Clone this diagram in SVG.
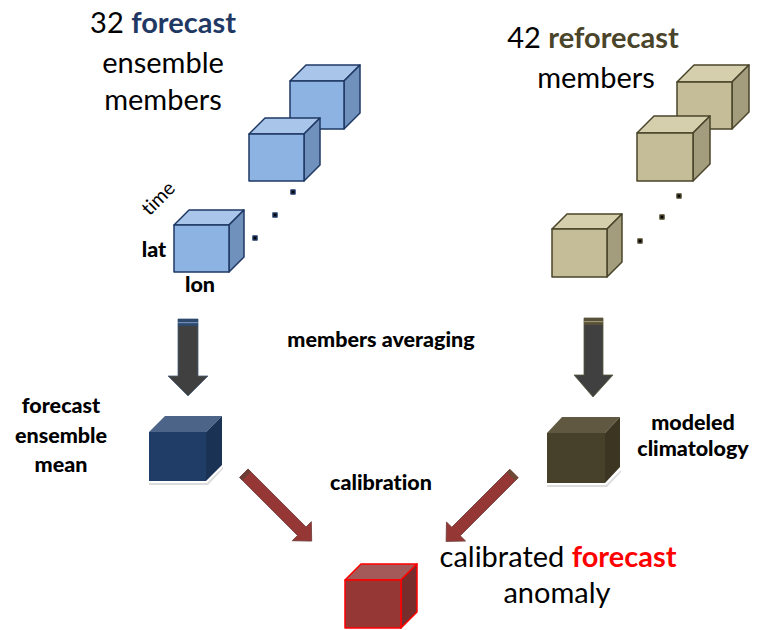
<svg xmlns="http://www.w3.org/2000/svg" width="761" height="630" viewBox="0 0 761 630">
  <style>
    text { font-family: "Lato", "Liberation Sans", sans-serif; fill: #000; font-variant-ligatures: none; font-feature-settings: "liga" 0, "clig" 0; }
    .big { font-size: 29px; }
    .lbl { font-size: 21.5px; font-weight: 900; }
    .b { font-weight: 700; }
    .blue .top { fill: #a9c5e9; }
    .blue .front { fill: #8db3e2; }
    .blue .side { fill: #7091bc; }
    .blue polygon, .blue rect { stroke: #1f3864; stroke-width: 1.5; stroke-linejoin: round; }
    .tan .top { fill: #d5cfae; }
    .tan .front { fill: #c4bd97; }
    .tan .side { fill: #a39d7e; }
    .tan polygon, .tan rect { stroke: #4a442a; stroke-width: 1.5; stroke-linejoin: round; }
    .dot { fill: #000; }
    .shadow { fill: #dcdcdc; }
  </style>

  <!-- forecast ensemble members -->
  <g id="forecast-members" class="blue">
    <g id="fc-cube-1">
      <polygon class="top" points="290,81 306,65 360,65 344,81"/>
      <polygon class="side" points="344,81 360,65 360,113 344,129"/>
      <rect class="front" x="290" y="81" width="54" height="48"/>
    </g>
    <g id="fc-cube-2">
      <polygon class="top" points="249,134 265,118 320,118 304,134"/>
      <polygon class="side" points="304,134 320,118 320,165 304,181"/>
      <rect class="front" x="249" y="134" width="55" height="47"/>
    </g>
    <g id="fc-cube-3">
      <polygon class="top" points="174,225 189,210 244,210 229,225"/>
      <polygon class="side" points="229,225 244,210 244,257 229,272"/>
      <rect class="front" x="174" y="225" width="55" height="47"/>
    </g>
    <rect class="dot" x="291" y="190" width="4" height="4" stroke="none"/>
    <rect class="dot" x="273" y="213" width="4" height="4" stroke="none"/>
    <rect class="dot" x="253" y="236" width="4" height="4" stroke="none"/>
  </g>

  <!-- reforecast members -->
  <g id="reforecast-members" class="tan">
    <g id="rf-cube-1">
      <polygon class="top" points="677,82 694,65 749,65 732,82"/>
      <polygon class="side" points="732,82 749,65 749,112 732,129"/>
      <rect class="front" x="677" y="82" width="55" height="47"/>
    </g>
    <g id="rf-cube-2">
      <polygon class="top" points="637,133 654,116 710,116 693,133"/>
      <polygon class="side" points="693,133 710,116 710,164 693,181"/>
      <rect class="front" x="637" y="133" width="56" height="48"/>
    </g>
    <g id="rf-cube-3">
      <polygon class="top" points="552,229 567,214 622,214 607,229"/>
      <polygon class="side" points="607,229 622,214 622,262 607,277"/>
      <rect class="front" x="552" y="229" width="55" height="48"/>
    </g>
    <rect class="dot" x="677" y="194" width="4" height="4" stroke="none"/>
    <rect class="dot" x="660" y="215" width="4" height="4" stroke="none"/>
    <rect class="dot" x="638" y="239" width="4" height="4" stroke="none"/>
  </g>

  <!-- forecast ensemble mean -->
  <g id="ensemble-mean">
    <polygon class="shadow" points="149,483 207,483 223,467 223,469 208,485 149,485"/>
    <polygon points="149,432 165,416 222,416 206,432" fill="#4b6488"/>
    <polygon points="206,432 222,416 222,465 206,481" fill="#1a3354"/>
    <rect x="149" y="432" width="57" height="49" fill="#1f3d66"/>
  </g>

  <!-- modeled climatology -->
  <g id="climatology">
    <polygon class="shadow" points="547,485 606,485 621,470 621,472 607,487 547,487"/>
    <polygon points="547,433 562,417 620,417 605,433" fill="#605840"/>
    <polygon points="605,433 620,417 620,467 605,483" fill="#3b3522"/>
    <rect x="547" y="433" width="58" height="50" fill="#47402a"/>
  </g>

  <!-- calibrated forecast anomaly -->
  <g id="anomaly" stroke="#ff0000" stroke-width="1.5" stroke-linejoin="round">
    <polygon points="345,580 361,564 417,564 401,580" fill="#a45a58"/>
    <polygon points="401,580 417,564 417,612 401,628" fill="#772d2b"/>
    <rect x="345" y="580" width="56" height="48" fill="#953735"/>
  </g>

  <!-- connectors -->
  <g id="connectors">
    <g id="avg-forecast">
      <path d="M178,319 H198 V376 H208 L188,396 L168,376 H178 Z" fill="#404040" stroke="#4a5f7a" stroke-width="0.8"/>
      <rect x="178" y="319" width="20" height="7" fill="#2d4a6e"/>
      <rect x="178" y="322" width="20" height="1.2" fill="#6f8db0"/>
    </g>
    <g id="avg-reforecast">
      <path d="M584,318 H603 V375 H613 L593,397 L574,375 H584 Z" fill="#404040" stroke="#5c5840" stroke-width="0.8"/>
      <rect x="584" y="318" width="19" height="7" fill="#57513a"/>
      <rect x="584" y="321" width="19" height="1.2" fill="#9a9370"/>
    </g>
    <g id="cal-mean" transform="translate(243.8,473.2) rotate(45)">
      <path d="M0,-6 H82 V-13.5 L96,0 L82,13.5 V6 H0 Z" fill="#953735" stroke="#6e3b3a" stroke-width="0.8"/>
      <rect x="0" y="-6" width="4" height="12" fill="#6b3d36"/>
    </g>
    <g id="cal-clim" transform="translate(514,473.5) rotate(135)">
      <path d="M0,-6 H82 V-13.5 L96,0 L82,13.5 V6 H0 Z" fill="#953735" stroke="#6e3b3a" stroke-width="0.8"/>
      <rect x="0" y="-6" width="4" height="12" fill="#6b4a36"/>
    </g>
  </g>

  <!-- labels -->
  <g id="labels">
    <text class="big" x="163" y="33" text-anchor="middle">32 <tspan class="b" fill="#1f3864">forecast</tspan></text>
    <text class="big" x="163" y="73" text-anchor="middle">ensemble</text>
    <text class="big" x="163" y="110" text-anchor="middle">members</text>

    <text class="big" x="593" y="48" text-anchor="middle">42 <tspan class="b" fill="#4a442a">reforecast</tspan></text>
    <text class="big" x="596" y="88" text-anchor="middle">members</text>

    <text x="158" y="205" font-size="19.5" text-anchor="middle" transform="rotate(-45 158 198)">time</text>
    <text class="lbl" x="154" y="257" text-anchor="middle">lat</text>
    <text class="lbl" x="200" y="292" text-anchor="middle">lon</text>

    <text class="lbl" x="381" y="347" text-anchor="middle">members averaging</text>
    <text class="lbl" x="381" y="490" text-anchor="middle">calibration</text>

    <text class="lbl" x="61" y="413" text-anchor="middle" font-size="22.5">forecast</text>
    <text class="lbl" x="61" y="443" text-anchor="middle" font-size="22.5">ensemble</text>
    <text class="lbl" x="61" y="472" text-anchor="middle" font-size="22.5">mean</text>

    <text class="lbl" x="693" y="430" text-anchor="middle" font-size="24.5">modeled</text>
    <text class="lbl" x="693" y="456" text-anchor="middle" font-size="24.5">climatology</text>

    <text class="big" x="558" y="567" text-anchor="middle">calibrated <tspan class="b" fill="#ff0000">forecast</tspan></text>
    <text class="big" x="557" y="603" text-anchor="middle">anomaly</text>
  </g>
</svg>
